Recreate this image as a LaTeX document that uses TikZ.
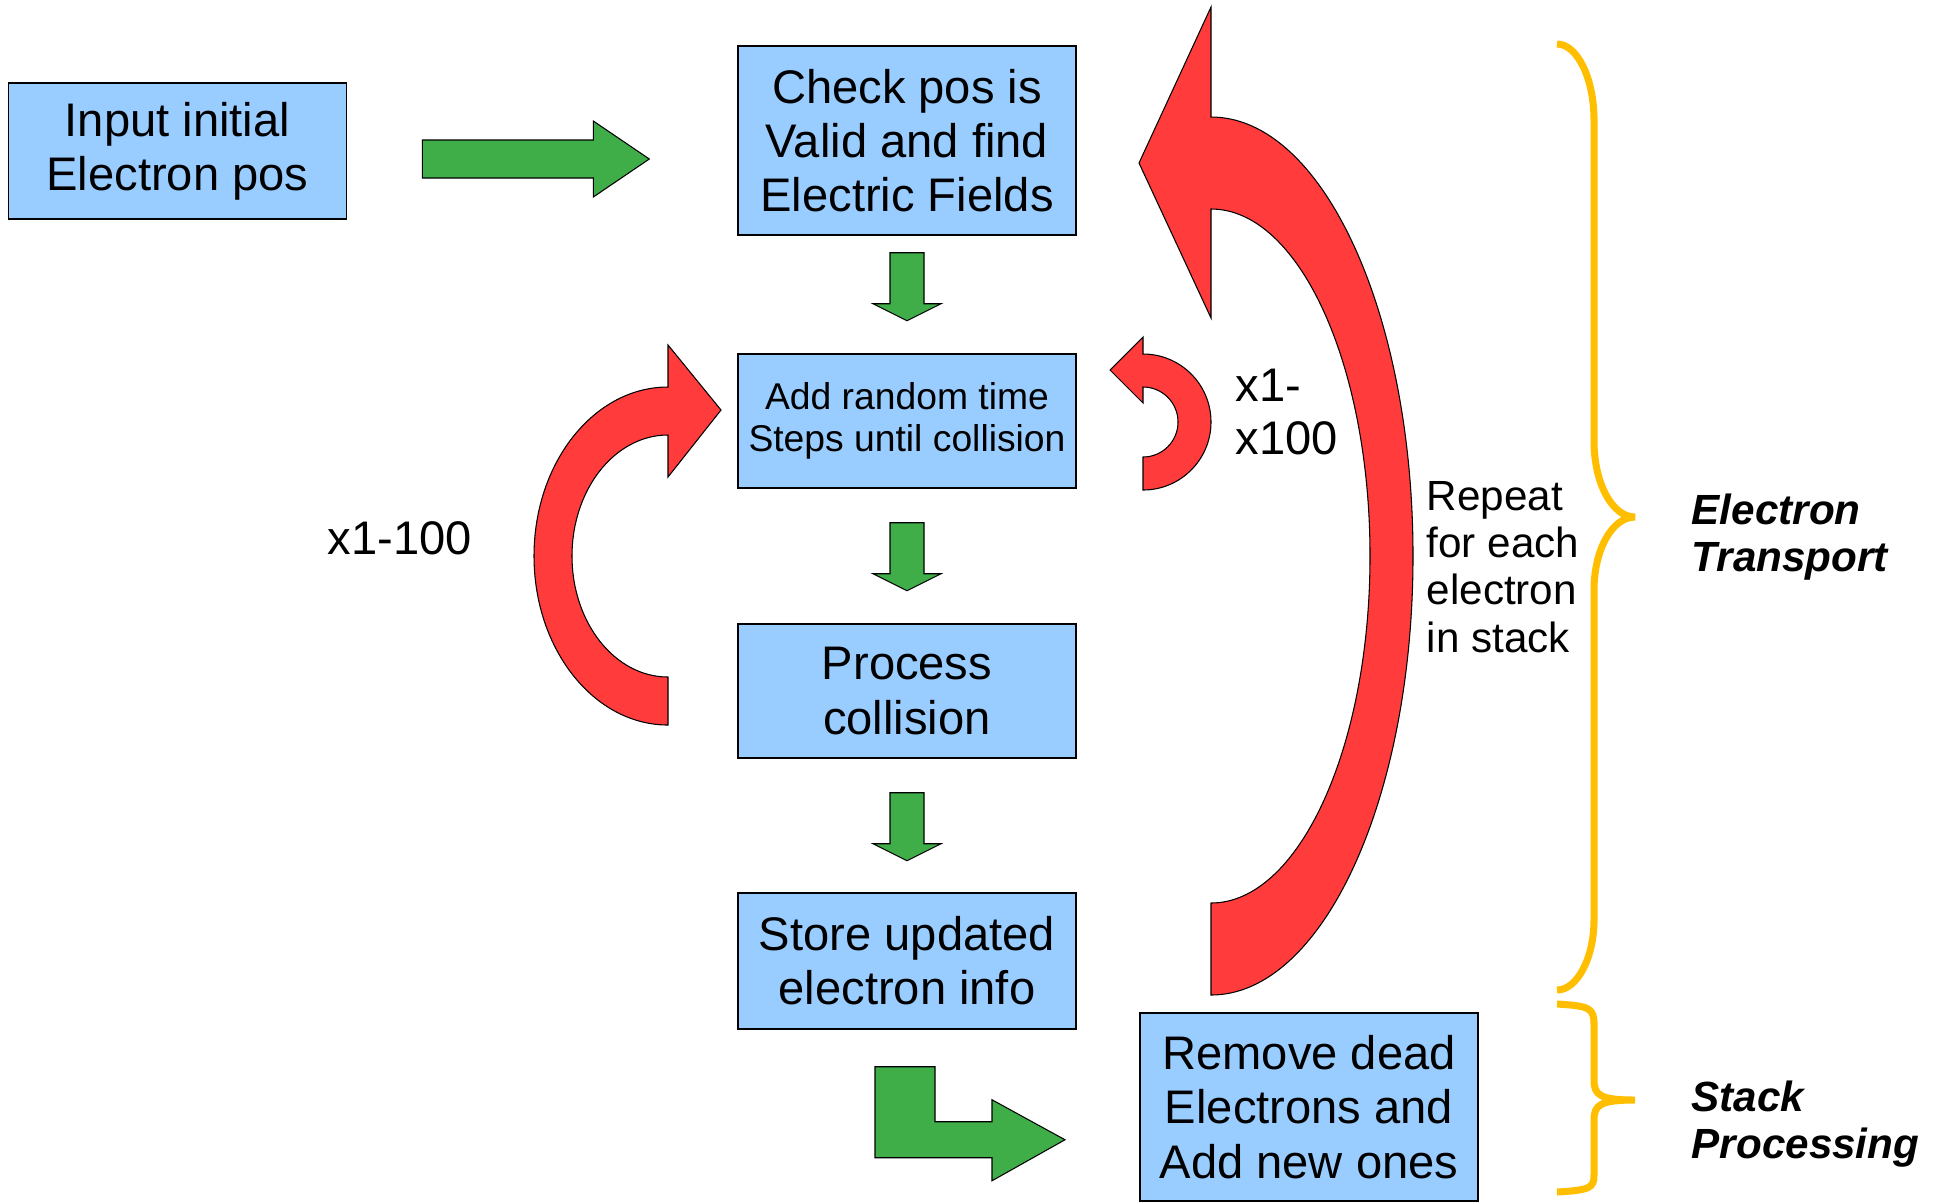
\documentclass[tikz,border=0pt]{standalone}
\usepackage{fontspec}
\setmainfont{Liberation Sans}
\usetikzlibrary{calc}
\definecolor{boxblue}{HTML}{99CCFF}
\definecolor{arrowgreen}{HTML}{40AE48}
\definecolor{arrowred}{HTML}{FF3B3B}
\definecolor{braceorange}{HTML}{FFBF00}

\begin{document}
\begin{tikzpicture}[x=0.01cm, y=-0.01cm,
  box/.style={draw, fill=boxblue, line width=0.4pt, minimum width=3.38cm, inner sep=0, align=center, font=\fontsize{13.4}{15.4}\selectfont},
  garrow/.style={draw, fill=arrowgreen, line width=0.3pt},
  rarrow/.style={draw, fill=arrowred, line width=0.3pt},
  brace/.style={draw=braceorange, line width=2pt},
  label/.style={anchor=west, align=left, inner sep=0}]
\useasboundingbox (0,0) rectangle (1940,1202);
% boxes
\node[box, minimum height=1.36cm] (input) at (177.5,151) {Input initial\\Electron pos};
\node[box, minimum height=1.89cm] (check) at (907,140.5) {Check pos is\\Valid and find\\Electric Fields};
\node[box, minimum height=1.34cm, font=\fontsize{10.6}{12}\selectfont] (steps) at (907,421) {Add random time\\Steps until collision};
\node[box, minimum height=1.34cm] (collide) at (907,691) {Process\\collision};
\node[box, minimum height=1.36cm] (store) at (907,961) {Store updated\\electron info};
\node[box, minimum height=1.88cm] (remove) at (1309,1107) {Remove dead\\Electrons and\\Add new ones};
% green block arrows
\draw[garrow] ($(input.east)+(75,-11)$) -- ++(171,0) -- ++(0,-19) -- ++(56,38) -- ++(-56,38) -- ++(0,-19) -- ++(-171,0) -- cycle;
\draw[garrow] ($(check.south)+(-17,17)$) -- ++(34,0) -- ++(0,51) -- ++(17,0) -- ++(-34,17) -- ++(-34,-17) -- ++(17,0) -- cycle;
\draw[garrow] ($(steps.south)+(-17,34)$) -- ++(34,0) -- ++(0,51) -- ++(17,0) -- ++(-34,17) -- ++(-34,-17) -- ++(17,0) -- cycle;
\draw[garrow] ($(collide.south)+(-17,34)$) -- ++(34,0) -- ++(0,51) -- ++(17,0) -- ++(-34,17) -- ++(-34,-17) -- ++(17,0) -- cycle;
\draw[garrow] ($(store.south)+(-32,37)$) -- ++(60,0) -- ++(0,55) -- ++(57,0) -- ++(0,-22) -- ++(73,40) -- ++(-73,41) -- ++(0,-23) -- ++(-117,0) -- cycle;
% red loop arrows
\draw[rarrow] (668,725) -- (668,677) arc[start angle=90, end angle=270, x radius=96, y radius=121] -- (668,477) -- (721,410) -- (668,345) -- (668,387) arc[start angle=270, end angle=90, x radius=134, y radius=169] -- cycle;
\draw[rarrow] (1143,490) -- (1143,457) arc[start angle=90, end angle=-90, radius=35] -- (1143,403) -- (1110,370) -- (1143,337) -- (1143,354) arc[start angle=-90, end angle=90, radius=68] -- cycle;
\draw[rarrow] (1211,995) -- (1211,903) arc[start angle=90, end angle=-90, x radius=159, y radius=347] -- (1211,318) -- (1139,163) -- (1211,7) -- (1211,117) arc[start angle=-90, end angle=90, x radius=202, y radius=439] -- cycle;
% loop counts
\node[font=\fontsize{13.4}{15.1}\selectfont] (outer) at (400,538) {x1-100};
\node[label, font=\fontsize{13.4}{15.1}\selectfont] (inner) at (1235,412) {x1-\\x100};
\node[label, font=\fontsize{12}{13.4}\selectfont] (repeat) at (1426,567) {Repeat\\for each\\electron\\in stack};
% braces
\draw[brace] (1557,44) .. controls (1577,44) and (1594,78) .. (1594,120) -- (1594,441) .. controls (1594,483) and (1612,517) .. (1635,517) .. controls (1612,517) and (1594,550) .. (1594,590) -- (1594,920) .. controls (1594,958) and (1577,990) .. (1557,990);
\draw[brace] (1557,1004) .. controls (1590,1006) and (1594,1008) .. (1594,1025) -- (1594,1080) .. controls (1594,1095) and (1600,1100) .. (1635,1100) .. controls (1600,1100) and (1594,1105) .. (1594,1120) -- (1594,1175) .. controls (1594,1188) and (1590,1190) .. (1557,1192);
\node[label, font=\fontsize{12}{13.2}\selectfont\bfseries\itshape] (transport) at (1691,537) {Electron\\Transport};
\node[label, font=\fontsize{12}{13.2}\selectfont\bfseries\itshape] (stack) at (1691,1124) {Stack\\Processing};
\end{tikzpicture}
\end{document}
